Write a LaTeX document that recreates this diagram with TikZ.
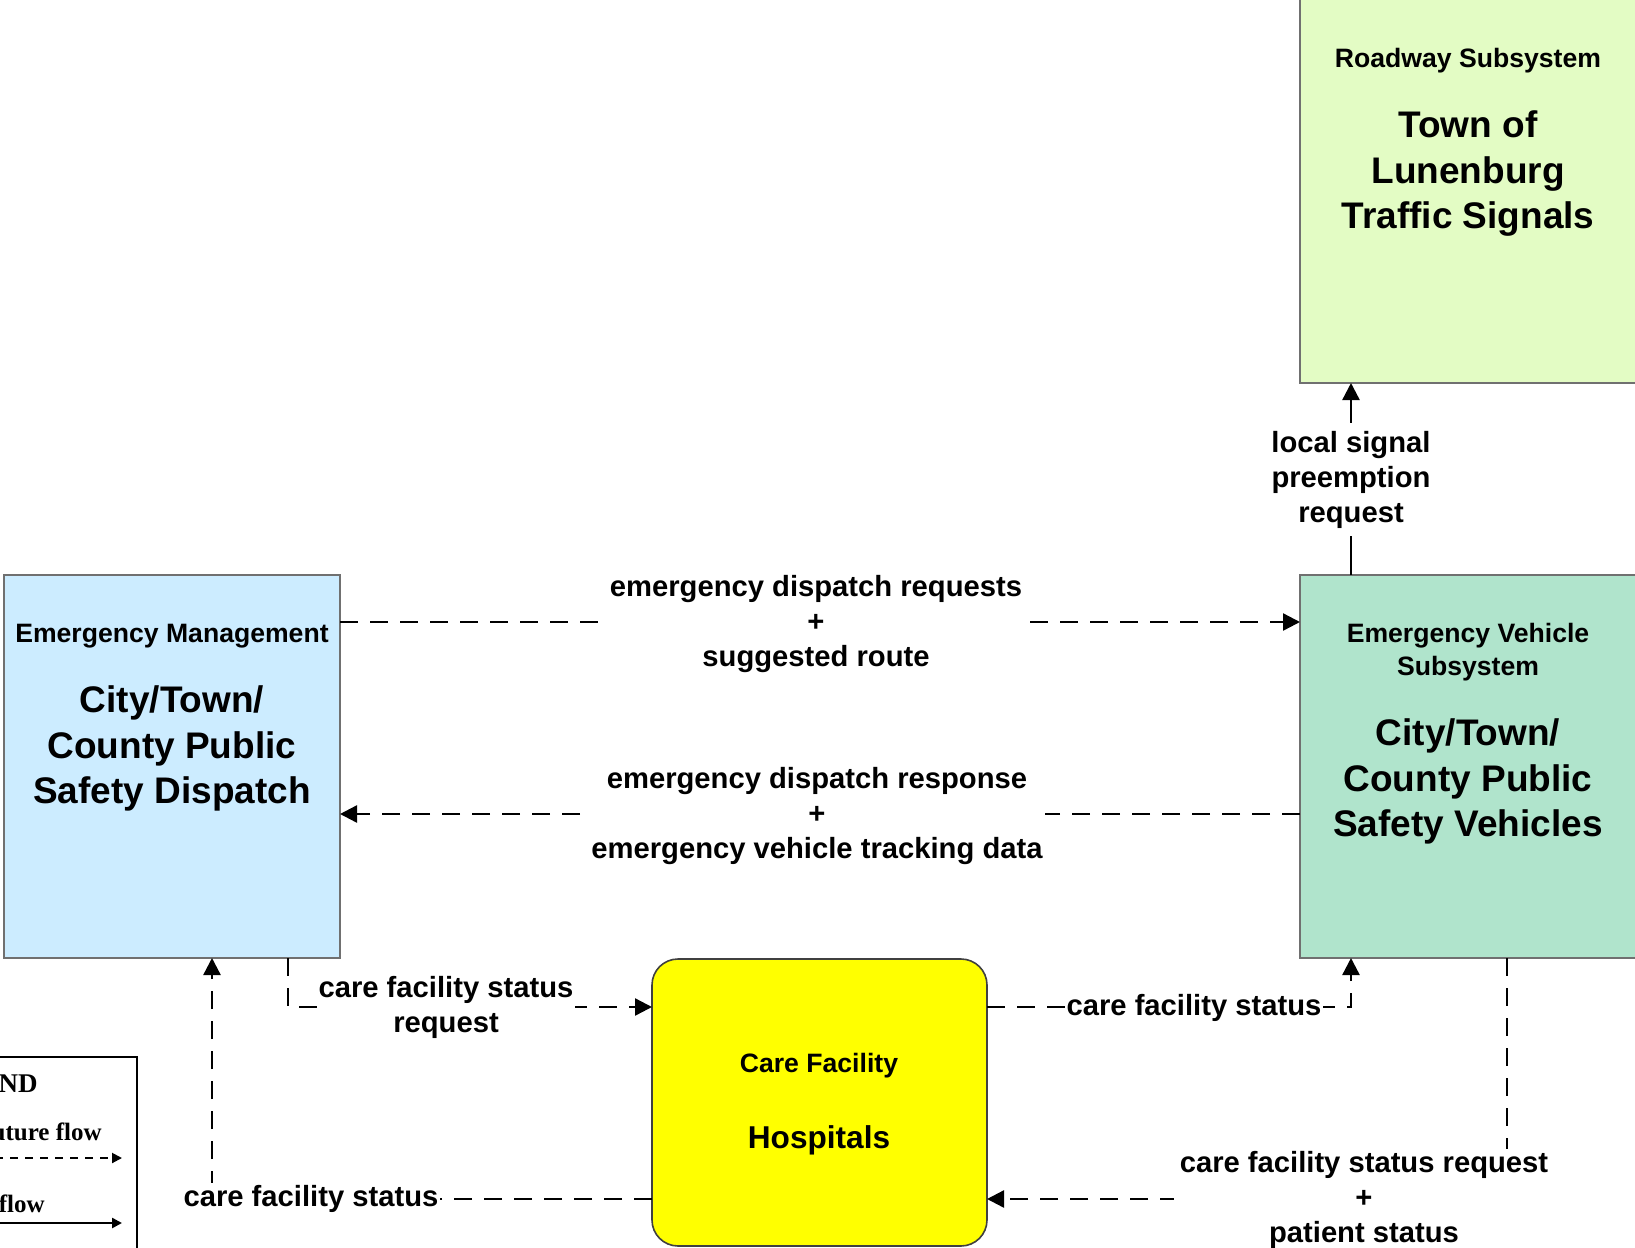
\documentclass[tikz,border=0pt]{standalone}
\usepackage{fontspec}
\setmainfont{Liberation Sans}
\newfontfamily\legfont{Liberation Serif}
\usetikzlibrary{arrows.meta}
\definecolor{dispfill}{HTML}{CCECFF}
\definecolor{roadfill}{HTML}{E3FCC4}
\definecolor{vehfill}{HTML}{B0E4CC}
\definecolor{carefill}{HTML}{FFFF00}
\definecolor{boxborder}{HTML}{707070}
\begin{document}
\begin{tikzpicture}[x=0.5pt,y=-0.5pt,
  box/.style={draw=boxborder,line width=1pt,inner sep=0pt,outer sep=0pt},
  flow/.style={line width=1.2pt,dash pattern=on 9pt off 6pt,-{Triangle[length=8.5pt,width=8.5pt]}},
  solidflow/.style={line width=1.2pt,-{Triangle[length=8.5pt,width=8.5pt]}},
  lbl/.style={fill=white,inner xsep=1pt,inner ysep=1pt,align=center,font=\bfseries\fontsize{14.6}{17.5}\selectfont},
  boxtitle/.style={align=center,font=\bfseries\fontsize{13.3}{16.5}\selectfont,inner sep=0pt},
  bigname/.style={align=center,font=\bfseries\fontsize{18.5}{22.75}\selectfont,inner sep=0pt},
  legtext/.style={inner sep=0pt,anchor=base east,font=\legfont\bfseries\fontsize{12.5}{15}\selectfont}]
\useasboundingbox (0,0) rectangle (1635,1248);
\clip (0,0) rectangle (1635,1248);

% boxes
\node[box,fill=dispfill,minimum width=168pt,minimum height=191.5pt] (disp) at (172,766.5) {};
\node[box,fill=roadfill,minimum width=168.5pt,minimum height=194pt] (road) at (1468.5,189) {};
\node[box,fill=vehfill,minimum width=168.5pt,minimum height=191.5pt] (veh) at (1468.5,766.5) {};
\node[draw=black!75,line width=0.8pt,fill=carefill,rounded corners=13pt,inner sep=0pt,outer sep=0pt,minimum width=167.5pt,minimum height=143.5pt] (care) at (819.5,1102.5) {};

% box texts
\node[boxtitle,anchor=base] (dispT) at (172,642) {Emergency Management};
\node[bigname] (dispN) at (172,748.5) {City/Town/\\County Public\\Safety Dispatch};
\node[boxtitle,anchor=base] (roadT) at (1468,67) {Roadway Subsystem};
\node[bigname] (roadN) at (1468,174) {Town of\\Lunenburg\\Traffic Signals};
\node[boxtitle] (vehT) at (1468,652) {Emergency Vehicle\\Subsystem};
\node[bigname] (vehN) at (1468,781.5) {City/Town/\\County Public\\Safety Vehicles};
\node[boxtitle,anchor=base] (careT) at (819,1072) {Care Facility};
\node[inner sep=0pt,anchor=base,font=\bfseries\fontsize{15.8}{19}\selectfont] (careN) at (819,1148) {Hospitals};

% helper coordinates
\coordinate (ya) at (0,622);
\coordinate (yb) at (0,814);
\coordinate (yc) at (0,1007);
\coordinate (yd) at (0,1199);
\coordinate (xa) at (1351,0);
\coordinate (xb) at (288,0);
\coordinate (xc) at (212,0);
\coordinate (xd) at (1507,0);

% connectors
\draw[flow] (disp.east |- ya) -- (veh.west |- ya);
\draw[flow] (veh.west |- yb) -- (disp.east |- yb);
\draw[solidflow] (veh.north -| xa) -- (road.south -| xa);
\draw[flow] (disp.south -| xb) |- (care.west |- yc);
\draw[flow] (care.west |- yd) -| (disp.south -| xc);
\draw[flow] (care.east |- yc) -| (veh.south -| xa);
\draw[flow] (veh.south -| xd) |- (care.east |- yd);

% labels
\node[lbl] (l1) at (816,624) {emergency dispatch requests\\+\\suggested route};
\node[lbl] (l2) at (817,816) {emergency dispatch response\\+\\emergency vehicle tracking data};
\node[lbl,inner ysep=4pt] (l3) at (1351,479.5) {local signal\\preemption\\request};
\node[lbl] (l4) at (446,1007.5) {care facility status\\request};
\node[lbl] (l5) at (1194,1008) {care facility status};
\node[lbl] (l6) at (311,1199) {care facility status};
\node[lbl,inner xsep=3pt] (l7) at (1364,1200) {care facility status request\\+\\patient status};

% legend
\node[draw=black,line width=1pt,inner sep=0pt,outer sep=0pt,minimum width=88.5pt,minimum height=121.5pt] (legend) at (48.5,1178.5) {};
\node[legtext,font=\legfont\bfseries\fontsize{13.5}{16}\selectfont] (legT) at (38,1092) {LEGEND};
\node[legtext] (legF) at (102,1140) {Future flow};
\node[legtext] (legE) at (45,1212) {Existing flow};
\coordinate (lfs) at (-20,1158);
\coordinate (lfe) at (122,1158);
\coordinate (les) at (-20,1223);
\coordinate (lee) at (122,1223);
\draw[line width=1pt,dash pattern=on 4pt off 3.5pt,-{Triangle[length=5pt,width=5pt]}] (lfs) -- (lfe);
\draw[line width=1.4pt,-{Triangle[length=5pt,width=5pt]}] (les) -- (lee);
\end{tikzpicture}
\end{document}
